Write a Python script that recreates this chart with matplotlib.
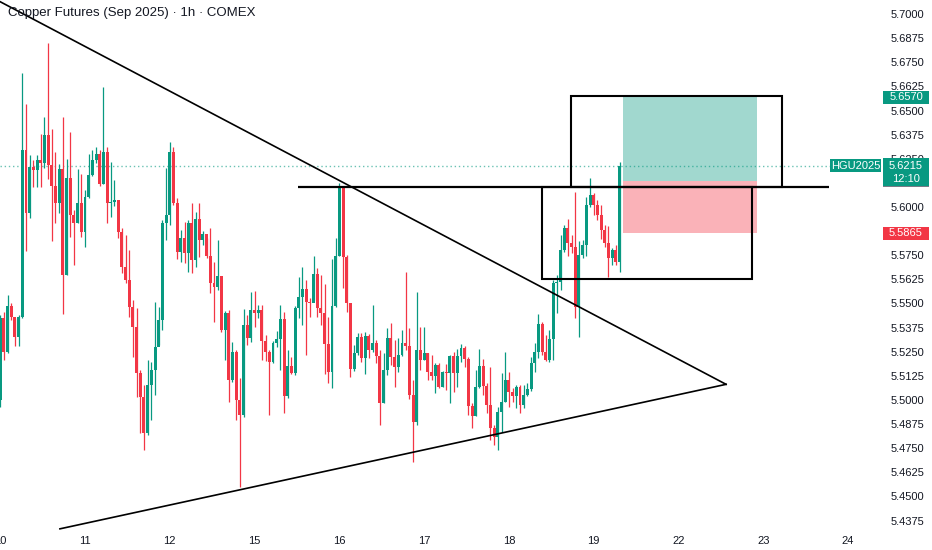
import numpy as np
import matplotlib
matplotlib.use("Agg")
import matplotlib.pyplot as plt
from matplotlib.patches import Rectangle
from matplotlib.transforms import blended_transform_factory

plt.rcParams['font.family'] = ['Liberation Sans', 'DejaVu Sans']

# hourly candles, open = previous close
first_open = 5.5000
closes = [5.5425, 5.5249, 5.5487, 5.5430, 5.5326, 5.5430, 5.6295, 5.5969, 5.6207, 5.6191,
          5.6243, 5.6228, 5.6373, 5.6217, 5.6109, 5.6020, 5.6197, 5.5648, 5.6150, 5.5958,
          5.5917, 5.6020, 5.5870, 5.6052, 5.6166, 5.6243, 5.6274, 5.6119, 5.6285, 5.6020,
          5.6026, 5.6036, 5.5870, 5.5689, 5.5622, 5.5482, 5.5378, 5.5140, 5.5016, 5.4829,
          5.5078, 5.5155, 5.5275, 5.5414, 5.5917, 5.5958, 5.6285, 5.6020, 5.5767, 5.5839,
          5.5761, 5.5917, 5.5725, 5.5938, 5.5829, 5.5860, 5.5746, 5.5606, 5.5585, 5.5642,
          5.5363, 5.5451, 5.5104, 5.5249, 5.5000, 5.4922, 5.5389, 5.5321, 5.5466, 5.5451,
          5.5466, 5.5306, 5.5249, 5.5197, 5.5295, 5.5316, 5.5420, 5.5021, 5.5176, 5.5140,
          5.5477, 5.5534, 5.5575, 5.5508, 5.5502, 5.5653, 5.5477, 5.5451, 5.5290, 5.5145,
          5.5487, 5.5746, 5.6098, 5.5741, 5.5502, 5.5161, 5.5243, 5.5326, 5.5218, 5.5332,
          5.5259, 5.5295, 5.5228, 5.4984, 5.5155, 5.5321, 5.5223, 5.5171, 5.5233, 5.5295,
          5.5280, 5.5026, 5.4886, 5.5259, 5.5207, 5.5243, 5.5145, 5.5124, 5.5181, 5.5067,
          5.5145, 5.5140, 5.5228, 5.5140, 5.5228, 5.5269, 5.5212, 5.4969, 5.4917, 5.5067,
          5.5176, 5.5073, 5.4974, 5.4855, 5.4808, 5.4938, 5.4990, 5.5104, 5.5041, 5.5021,
          5.5067, 5.4974, 5.5026, 5.5057, 5.5192, 5.5249, 5.5394, 5.5249, 5.5207, 5.5316,
          5.5606, 5.5611, 5.5777, 5.5891, 5.5813, 5.5793, 5.5482, 5.5751, 5.5803, 5.6010,
          5.6062, 5.6010, 5.5958, 5.5881, 5.5813, 5.5736, 5.5777, 5.5715, 5.6215]
highs = [5.5440, 5.5456, 5.5544, 5.5502, 5.5425, 5.5440, 5.6694, 5.6533, 5.6269, 5.6243,
         5.6269, 5.6378, 5.6466, 5.6849, 5.6404, 5.6285, 5.6222, 5.6466, 5.6248, 5.6388,
         5.5984, 5.6197, 5.6171, 5.6088, 5.6274, 5.6295, 5.6311, 5.6295, 5.6621, 5.6311,
         5.6233, 5.6140, 5.6036, 5.5891, 5.5855, 5.5777, 5.5518, 5.5477, 5.5155, 5.5078,
         5.5207, 5.5197, 5.5508, 5.5482, 5.5932, 5.6202, 5.6336, 5.6311, 5.6046, 5.5881,
         5.5922, 5.5932, 5.6020, 5.5974, 5.6020, 5.5875, 5.5839, 5.5891, 5.5715, 5.5829,
         5.5637, 5.5461, 5.5466, 5.5300, 5.5259, 5.5114, 5.5471, 5.5440, 5.5559, 5.5565,
         5.5492, 5.5492, 5.5337, 5.5259, 5.5306, 5.5357, 5.5492, 5.5456, 5.5259, 5.5223,
         5.5487, 5.5637, 5.5689, 5.5622, 5.5528, 5.5746, 5.5684, 5.5648, 5.5601, 5.5430,
         5.5730, 5.5839, 5.6124, 5.6098, 5.5751, 5.5502, 5.5285, 5.5347, 5.5347, 5.5352,
         5.5342, 5.5492, 5.5311, 5.5259, 5.5243, 5.5373, 5.5399, 5.5311, 5.5321, 5.5363,
         5.5663, 5.5373, 5.5104, 5.5559, 5.5378, 5.5378, 5.5243, 5.5233, 5.5192, 5.5192,
         5.5150, 5.5186, 5.5233, 5.5249, 5.5264, 5.5290, 5.5280, 5.5223, 5.4984, 5.5155,
         5.5264, 5.5212, 5.5088, 5.5171, 5.4870, 5.4964, 5.5140, 5.5249, 5.5145, 5.5062,
         5.5078, 5.5078, 5.5078, 5.5088, 5.5223, 5.5295, 5.5445, 5.5404, 5.5337, 5.5363,
         5.5622, 5.5648, 5.5855, 5.5907, 5.5938, 5.5855, 5.6077, 5.5824, 5.5829, 5.6052,
         5.6150, 5.6072, 5.6036, 5.6010, 5.5907, 5.5901, 5.5787, 5.5803, 5.6233]
lows = [5.4964, 5.5207, 5.5243, 5.5414, 5.5280, 5.5280, 5.5425, 5.5772, 5.5943, 5.6103,
        5.6103, 5.6103, 5.6202, 5.6145, 5.5824, 5.5917, 5.5969, 5.5445, 5.5648, 5.5844,
        5.5699, 5.5917, 5.5844, 5.5793, 5.6046, 5.6160, 5.6228, 5.6109, 5.6119, 5.5917,
        5.5948, 5.6005, 5.5839, 5.5658, 5.5606, 5.5430, 5.5223, 5.5016, 5.4829, 5.4741,
        5.4819, 5.4896, 5.5026, 5.5285, 5.5363, 5.5829, 5.5907, 5.6010, 5.5730, 5.5715,
        5.5710, 5.5663, 5.5658, 5.5689, 5.5741, 5.5803, 5.5736, 5.5554, 5.5404, 5.5570,
        5.5352, 5.5207, 5.4990, 5.5093, 5.4896, 5.4549, 5.4912, 5.5285, 5.5300, 5.5378,
        5.5425, 5.5207, 5.5202, 5.4922, 5.5192, 5.5275, 5.5155, 5.4933, 5.5010, 5.5135,
        5.5130, 5.5425, 5.5389, 5.5233, 5.5430, 5.5518, 5.5430, 5.5389, 5.5135, 5.5088,
        5.5062, 5.5482, 5.5746, 5.5580, 5.5456, 5.5119, 5.5150, 5.5233, 5.5197, 5.5135,
        5.5218, 5.5249, 5.5192, 5.4870, 5.4984, 5.5130, 5.5181, 5.5067, 5.5145, 5.5228,
        5.5259, 5.5005, 5.4679, 5.4870, 5.5155, 5.5207, 5.5104, 5.5104, 5.5036, 5.5062,
        5.5067, 5.5052, 5.4984, 5.5041, 5.5067, 5.5197, 5.5171, 5.4922, 5.4855, 5.4917,
        5.5062, 5.5026, 5.4933, 5.4793, 5.4767, 5.4741, 5.4834, 5.4990, 5.4964, 5.4990,
        5.4959, 5.4933, 5.4959, 5.5021, 5.5047, 5.5145, 5.5218, 5.5233, 5.5202, 5.5197,
        5.5207, 5.5451, 5.5570, 5.5767, 5.5746, 5.5761, 5.5425, 5.5326, 5.5736, 5.5746,
        5.6000, 5.5958, 5.5932, 5.5834, 5.5793, 5.5637, 5.5699, 5.5699, 5.5663]

day_labels = ['10', '11', '12', '15', '16', '17', '18', '19', '22', '23', '24']
bars_per_day = 23

# drawings (bar index, price)
upper_trend_x = [0, 196.9]
upper_trend_y = [5.7064, 5.5081]
lower_trend_x = [16.2, 196.9]
lower_trend_y = [5.4332, 5.5081]
level_price = 5.6102
level_x = [80.8, 224.8]
box1 = [146.9, 204.0, 5.5628, 5.6102]
box2 = [154.9, 212.0, 5.6102, 5.6575]
pos_x = [168.9, 205.2]
entry, target, stop = 5.6135, 5.6570, 5.5865
last_price = 5.6215
countdown = '12:10'

GREEN = '#089981'
RED = '#F23645'
TXT = '#131722'

opens = [first_open] + closes[:-1]
x = np.arange(len(closes))
o = np.array(opens)
c = np.array(closes)
up = c >= o
cols = np.where(up, GREEN, RED)

fig = plt.figure(figsize=(9.32, 5.5), dpi=100)
ax = fig.add_axes([0, 20 / 550, 882 / 932, 530 / 550])

ax.vlines(x, lows, highs, colors=cols, lw=0.9, zorder=3)
body = np.maximum(np.abs(c - o), 0.0004)
ax.bar(x, body, bottom=np.minimum(o, c), width=0.8, color=cols, zorder=4)

# position tool
ax.add_patch(Rectangle((pos_x[0], entry), pos_x[1] - pos_x[0], target - entry,
                       facecolor=GREEN, alpha=0.38, lw=0, zorder=2))
ax.add_patch(Rectangle((pos_x[0], stop), pos_x[1] - pos_x[0], entry - stop,
                       facecolor=RED, alpha=0.38, lw=0, zorder=2))

# boxes, level, trend lines
for bx in (box1, box2):
    ax.add_patch(Rectangle((bx[0], bx[2]), bx[1] - bx[0], bx[3] - bx[2],
                           fill=False, edgecolor='black', lw=1.5, zorder=5))
ax.hlines(level_price, level_x[0], level_x[1], color='black', lw=1.6, zorder=5)
ax.plot(upper_trend_x, upper_trend_y, color='black', lw=1.2, zorder=5)
ax.plot(lower_trend_x, lower_trend_y, color='black', lw=1.2, zorder=5)

ax.axhline(last_price, color=GREEN, ls=(0, (1, 2)), lw=1, alpha=0.6, zorder=1)

ax.set_xlim(-0.054, 239.2)
ax.set_ylim(5.4326, 5.7073)

ax.set_xticks([bars_per_day * k for k in range(len(day_labels))])
ax.set_xticklabels(day_labels)
ax.yaxis.tick_right()
yt = np.arange(5.4375, 5.7001, 0.0125)
ax.set_yticks(yt)
ax.set_yticklabels(['%.4f' % v for v in yt])
ax.tick_params(axis='both', length=0, labelsize=8, colors=TXT)
ax.tick_params(axis='x', pad=4.5)
ax.tick_params(axis='y', pad=6)
for s in ax.spines.values():
    s.set_visible(False)

fig.text(8 / 932, 1 - 13 / 550, 'Copper Futures (Sep 2025) · 1h · COMEX',
         fontsize=9.5, color=TXT, va='center', ha='left', zorder=1)

# price tags on the scale
tr = blended_transform_factory(fig.transFigure, ax.transData)
px = 1 / 1930.0
tx0, tw = 883 / 932, 46 / 932


def tag(price, color, label, xl=tx0, w=tw, h=13, above=6.5, z=5):
    fig.add_artist(Rectangle((xl, price - (h - above) * px), w, h * px,
                             transform=tr, facecolor=color, lw=0, zorder=z))
    fig.text(xl + w / 2, price, label, transform=tr, ha='center', va='center',
             color='white', fontsize=8, zorder=z + 0.5)


# entry tag sits behind the last price tag
tag(entry, '#787B86', '%.4f' % entry, z=4)
tag(target, GREEN, '%.4f' % target)
fig.add_artist(Rectangle((tx0, last_price - 20.3 * px), tw, 28 * px,
                         transform=tr, facecolor=GREEN, lw=0, zorder=6))
fig.text(tx0 + tw / 2, last_price, '%.4f' % last_price, transform=tr,
         ha='center', va='center', color='white', fontsize=8, zorder=7)
fig.text(tx0 + tw / 2, last_price - 13 * px, countdown, transform=tr,
         ha='center', va='center', color='white', fontsize=8, zorder=7)
tag(last_price, GREEN, 'HGU2025', xl=830 / 932, w=51 / 932)
tag(stop, RED, '%.4f' % stop)

fig.savefig('out.png', dpi=100, facecolor='white')
